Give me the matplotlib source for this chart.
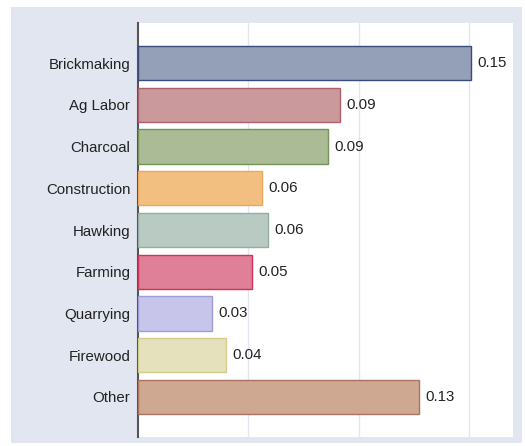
import matplotlib
matplotlib.use("Agg")
import matplotlib.pyplot as plt
from matplotlib.patches import Rectangle

plt.rcParams['font.family'] = ['Liberation Sans', 'DejaVu Sans']

categories = ["Brickmaking", "Ag Labor", "Charcoal", "Construction", "Hawking",
              "Farming", "Quarrying", "Firewood", "Other"]
values = [0.151, 0.0915, 0.086, 0.056, 0.059, 0.0515, 0.0335, 0.040, 0.1275]
fills = ["#94a0b8", "#c9999b", "#aabb96", "#f2bf80", "#b8cac2",
         "#e08098", "#c8c5ea", "#e5e1bd", "#cfa892"]
edges = ["#3a4a7a", "#b06068", "#74925a", "#eaa85a", "#92b0a2",
         "#cc3358", "#a09cdc", "#d4cc8c", "#ac7460"]

W, H = 525, 446
fig = plt.figure(figsize=(W / 100, H / 100), dpi=100, facecolor="white")
fig.patches.append(Rectangle((11 / W, 3 / H), 511 / W, 436 / H,
                             transform=fig.transFigure, facecolor="#e1e6f0",
                             edgecolor="none", zorder=-10))

ax = fig.add_axes([138 / W, 9 / H, 375 / W, 414 / H])
ax.set_zorder(1)
ax.set_facecolor("white")

y = list(range(len(categories)))
ax.barh(y, values, height=0.82, color=fills, edgecolor=edges, linewidth=1, zorder=3)
for yi, v in zip(y, values):
    ax.text(v + 0.003, yi, f"{v:.2f}", va="center", ha="left", fontsize=10.8,
            color="#222222", zorder=4)

ax.set_xlim(0, 0.17)
ax.set_ylim(len(categories) - 1 + 0.96, -0.96)
ax.set_xticks([0.05, 0.10, 0.15])
ax.xaxis.grid(True, color="#e3e6ef", linewidth=1, zorder=0)
ax.tick_params(axis="x", length=0, labelbottom=False)
ax.set_yticks(y)
ax.set_yticklabels(categories, fontsize=10.8, color="#222222")
ax.tick_params(axis="y", length=0, pad=5.5)
for s in ["top", "right", "bottom"]:
    ax.spines[s].set_visible(False)
ax.spines["left"].set_color("#555555")
ax.spines["left"].set_linewidth(1.5)

fig.savefig("out.png", dpi=100, facecolor="white")
